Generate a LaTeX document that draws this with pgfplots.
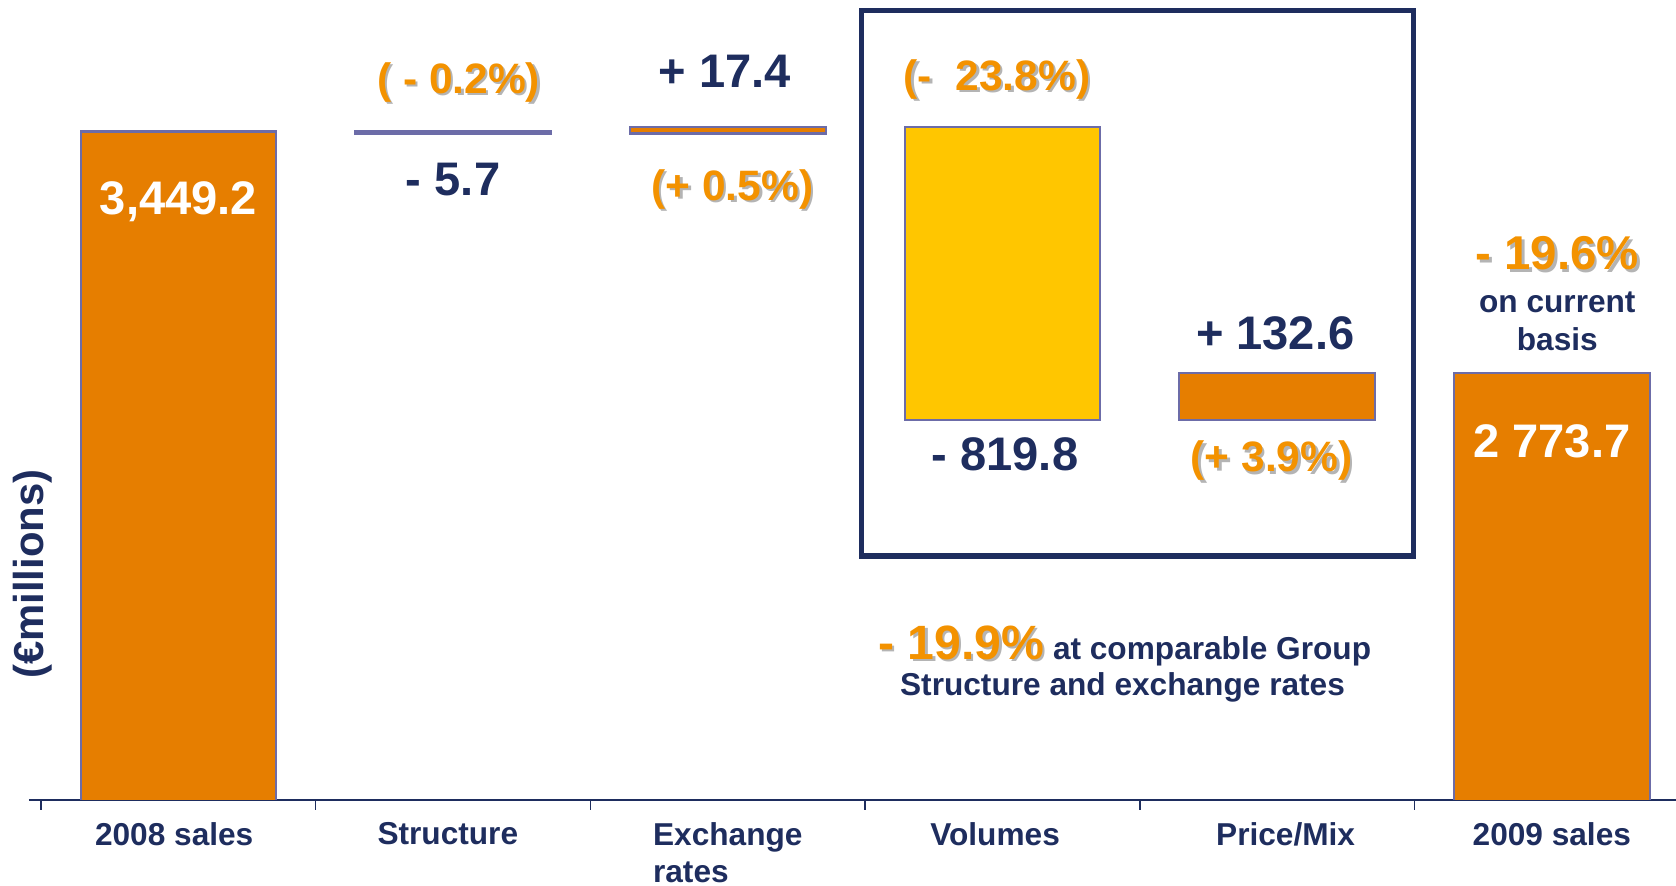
\documentclass[border=0pt]{standalone}
\usepackage{pgfplots}
\pgfplotsset{compat=1.18}
\usepackage{fontspec}
\setmainfont{Liberation Sans}
\definecolor{cNavy}{HTML}{1E2D5E}
\definecolor{cOrg}{HTML}{E67E00}
\definecolor{cPct}{HTML}{F39200}
\definecolor{cYel}{HTML}{FFC600}
\definecolor{cEdge}{HTML}{6C6CA8}
\definecolor{cShad}{HTML}{B4B4B4}
% bold text at a given size
\newcommand{\fs}[1]{\fontsize{#1}{#1}\selectfont\bfseries}
% orange labels carry a small grey drop shadow
\newcommand{\sh}[1]{\rlap{\kern0.7pt\raisebox{-0.7pt}{\color{cShad}#1}}#1}

\begin{document}
\begin{tikzpicture}
\begin{axis}[
  scale only axis, width=16.47cm, height=8cm,
  xmin=-0.544, xmax=5.452, ymin=1579, ymax=3817,
  axis x line*=bottom, axis y line=none,
  x axis line style={-, draw=cNavy, line width=0.6pt},
  ybar stacked, bar width=1.956cm,
  clip mode=individual,
  xtick={0,...,5}, major tick length=0pt,
  xticklabels={2008 sales\kern2.4pt, Structure\kern3pt, {Exchange\\rates},
    Volumes\kern4.2pt, \kern4.8pt Price/Mix, 2009 sales},
  xticklabel style={font=\fontsize{9}{10.6}\selectfont\bfseries, text=cNavy,
    align=left, anchor=north, yshift=-2.9pt},
  minor xtick={-0.5,0.5,...,4.5}, minor tick length=2.8pt, tick align=outside,
  minor tick style={draw=cNavy, line width=0.4pt},
]
% waterfall: invisible base, then the visible step
\addplot[fill=none, draw=none] coordinates {(0,0) (1,3443.5) (2,3443.5) (3,2641.1) (4,2641.1) (5,0)};
\addplot[fill=cOrg, draw=cEdge, line width=0.6pt] coordinates {(0,3449.2) (1,5.7) (2,17.4) (3,0) (4,132.6) (5,2773.7)};
\addplot[fill=cYel, draw=cEdge, line width=0.6pt] coordinates {(0,0) (1,0) (2,0) (3,819.8) (4,0) (5,0)};

% spots for the white labels, drawn over the bars after the axis
\coordinate (w08) at (axis cs:0,3254);
\coordinate (w09) at (axis cs:5,2582);

% value labels
\node[text=cPct, font=\fs{12.1}] at (axis cs:1.02,3584) {\sh{( - 0.2\%)}};
\node[text=cNavy, font=\fs{13.4}] at (axis cs:1,3314) {- 5.7};
\node[text=cNavy, font=\fs{13.4}] at (axis cs:1.99,3616.5) {+ 17.4};
\node[text=cPct, font=\fs{12.1}] at (axis cs:2.017,3284.5) {\sh{(+ 0.5\%)}};
\node[text=cPct, font=\fs{12.1}] at (axis cs:2.98,3592) {\sh{(-\ \ 23.8\%)}};
\node[text=cNavy, font=\fs{13.4}] at (axis cs:3.009,2546) {- 819.8};
\node[text=cNavy, font=\fs{13.4}] at (axis cs:3.993,2884) {+ 132.6};
\node[text=cPct, font=\fs{12.1}] at (axis cs:3.98,2525) {\sh{(+ 3.9\%)}};
\node[text=cPct, font=\fs{13.5}] at (axis cs:5.02,3105) {\sh{- 19.6\%}};
\node[text=cNavy, font=\fs{9}] at (axis cs:5.02,2970.6) {on current};
\node[text=cNavy, font=\fs{9}] at (axis cs:5.02,2869) {basis};

% comparable-basis note
\node[text=cNavy, font=\fs{9}] at (axis cs:3.445,2010.6)
  {{\color{cPct}\fs{13.7}\sh{- 19.9\%}} at comparable Group};
\node[text=cNavy, font=\fs{9}] at (axis cs:3.437,1894) {Structure and exchange rates};

% unit label
\node[text=cNavy, font=\fs{11.9}, rotate=90] at (axis cs:-0.529,2211) {(€millions)};

% frame round volumes and price/mix
\draw[cNavy, line width=1.5pt] (axis cs:2.487,2261.8) rectangle (axis cs:4.495,3786.8);
\end{axis}
\node[text=white, font=\fs{13.4}] at (w08) {3,449.2};
\node[text=white, font=\fs{13.4}] at (w09) {2 773.7};
\pgfresetboundingbox
\path ([xshift=-0.29cm, yshift=-0.85cm]current axis.south west) rectangle (current axis.north east);
\end{tikzpicture}
\end{document}
